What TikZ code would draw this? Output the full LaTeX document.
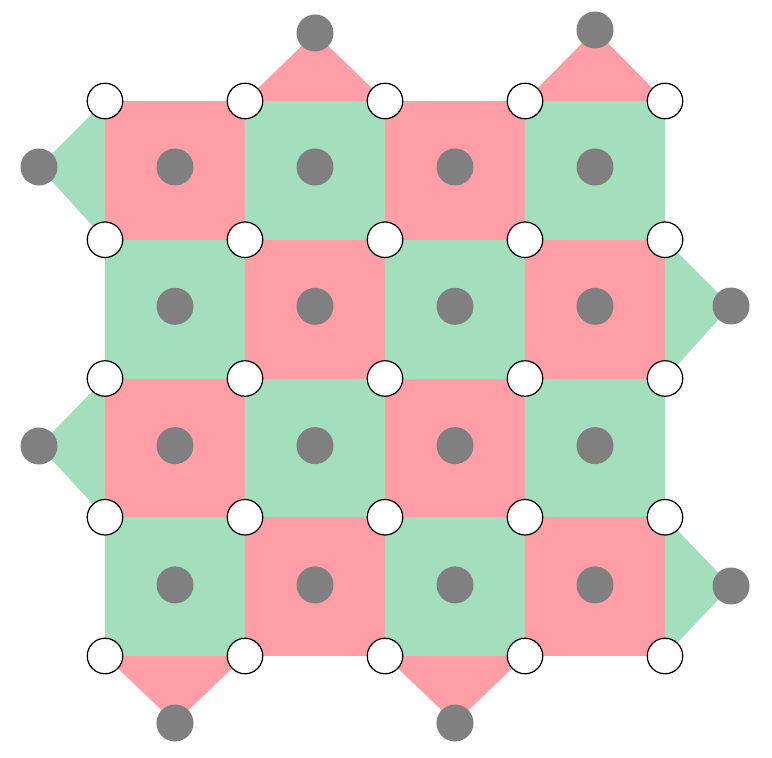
\documentclass[tikz,border=0pt]{standalone}
\usetikzlibrary{backgrounds}

\definecolor{xred}{RGB}{255,158,166}
\definecolor{zgreen}{RGB}{163,223,188}
\definecolor{ancgray}{RGB}{128,128,128}

\begin{document}
\begin{tikzpicture}[x=1cm, y=-1cm,
    data/.style={circle, draw=black, line width=0.35pt, fill=white, inner sep=0pt, minimum size=0.355cm},
    anc/.style={circle, fill=ancgray, inner sep=0pt, minimum size=0.37cm},
    xface/.style={fill=xred},
    zface/.style={fill=zgreen}]
      \useasboundingbox (0,0) rectangle (7.72,7.57);

      % data qubits
      \foreach \i in {0,...,4}
        \foreach \j in {0,...,4}
          \node [data] (d-\i-\j) at ({1.05+1.4*\i},{1.01+1.3875*\j}) {};

      % ancillas in the bulk
      \foreach \i in {0,...,3}
        \foreach \j in {0,...,3}
          \node [anc] (a-\i-\j) at ({1.75+1.4*\i},{1.67+1.393*\j}) {};

      % ancillas on the boundary
      \node [anc] (top-a) at (3.15,0.33) {};
      \node [anc] (top-b) at (5.95,0.30) {};
      \node [anc] (bot-a) at (1.75,7.23) {};
      \node [anc] (bot-b) at (4.55,7.23) {};
      \node [anc] (left-a) at (0.39,1.67) {};
      \node [anc] (left-b) at (0.39,4.46) {};
      \node [anc] (right-a) at (7.31,3.06) {};
      \node [anc] (right-b) at (7.31,5.86) {};

      \begin{scope}[on background layer]
        % plaquettes
        \foreach \i in {0,...,3}
          \foreach \j in {0,...,3} {
            \pgfmathtruncatemacro{\ii}{\i+1}
            \pgfmathtruncatemacro{\jj}{\j+1}
            \pgfmathtruncatemacro{\parity}{mod(\i+\j,2)}
            \ifnum\parity=0
              \fill [xface] (d-\i-\j.center) -- (d-\ii-\j.center) -- (d-\ii-\jj.center) -- (d-\i-\jj.center) -- cycle;
            \else
              \fill [zface] (d-\i-\j.center) -- (d-\ii-\j.center) -- (d-\ii-\jj.center) -- (d-\i-\jj.center) -- cycle;
            \fi
          }
        % boundary triangles
        \fill [xface] (d-1-0.center) -- (top-a.center) -- (d-2-0.center) -- cycle;
        \fill [xface] (d-3-0.center) -- (top-b.center) -- (d-4-0.center) -- cycle;
        \fill [xface] (d-0-4.center) -- (bot-a.center) -- (d-1-4.center) -- cycle;
        \fill [xface] (d-2-4.center) -- (bot-b.center) -- (d-3-4.center) -- cycle;
        \fill [zface] (d-0-0.center) -- (left-a.center) -- (d-0-1.center) -- cycle;
        \fill [zface] (d-0-2.center) -- (left-b.center) -- (d-0-3.center) -- cycle;
        \fill [zface] (d-4-1.center) -- (right-a.center) -- (d-4-2.center) -- cycle;
        \fill [zface] (d-4-3.center) -- (right-b.center) -- (d-4-4.center) -- cycle;
      \end{scope}
    \end{tikzpicture}
\end{document}
